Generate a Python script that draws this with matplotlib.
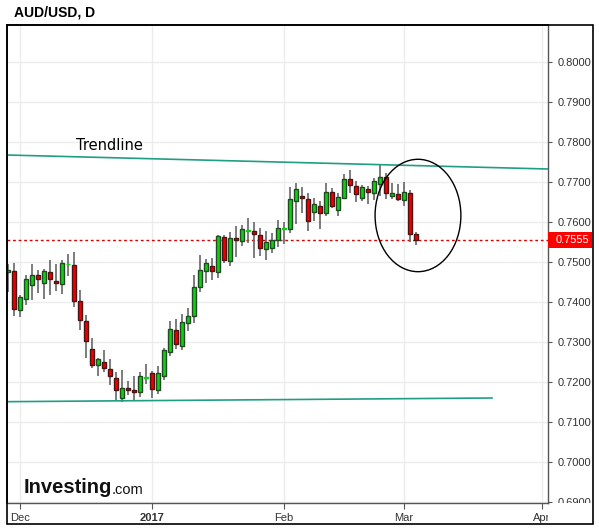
import matplotlib
matplotlib.use("Agg")
import matplotlib.pyplot as plt
import matplotlib.transforms as mtransforms
from matplotlib.patches import Ellipse, Rectangle
import numpy as np
import pandas as pd

plt.rcParams['font.family'] = ['Liberation Sans', 'DejaVu Sans']

# ---------------------------------------------------------------------------------------------------------------------#
# AUD/USD daily candles, 29 Nov 2016 - 3 Mar 2017
# ---------------------------------------------------------------------------------------------------------------------#
dates = pd.bdate_range("2016-11-29", periods=69)

opens = [0.7474, 0.7477,
         0.7379, 0.7407, 0.7442, 0.7467, 0.7447, 0.7474, 0.7452, 0.7444, 0.7494, 0.7492,
         0.7402, 0.7352, 0.7282, 0.7242, 0.7251, 0.7233, 0.7210, 0.7160, 0.7184, 0.7179,
         0.7175, 0.7211, 0.7223, 0.7180, 0.7215, 0.7275, 0.7330, 0.7290, 0.7348, 0.7365,
         0.7437, 0.7478, 0.7489, 0.7474, 0.7562, 0.7502, 0.7559, 0.7552, 0.7578, 0.7577,
         0.7567, 0.7532, 0.7534, 0.7554, 0.7583, 0.7583, 0.7653, 0.7666, 0.7657, 0.7624,
         0.7639, 0.7622, 0.7675, 0.7629, 0.7660, 0.7708, 0.7689, 0.7659, 0.7683, 0.7672,
         0.7696, 0.7713, 0.7665, 0.7670, 0.7654, 0.7672, 0.7571]
closes = [0.7479, 0.7382,
          0.7412, 0.7457, 0.7467, 0.7457, 0.7477, 0.7457, 0.7448, 0.7497, 0.7495, 0.7402,
          0.7354, 0.7302, 0.7242, 0.7258, 0.7235, 0.7214, 0.7181, 0.7185, 0.7181, 0.7174,
          0.7215, 0.7212, 0.7183, 0.7222, 0.7280, 0.7333, 0.7295, 0.7350, 0.7365, 0.7437,
          0.7481, 0.7498, 0.7477, 0.7564, 0.7504, 0.7559, 0.7554, 0.7582, 0.7579, 0.7569,
          0.7534, 0.7549, 0.7554, 0.7584, 0.7584, 0.7658, 0.7683, 0.7659, 0.7602, 0.7645,
          0.7622, 0.7675, 0.7639, 0.7662, 0.7708, 0.7693, 0.7670, 0.7687, 0.7674, 0.7702,
          0.7713, 0.7672, 0.7673, 0.7658, 0.7675, 0.7570, 0.7555]
highs = [0.7494, 0.7498,
         0.7418, 0.7468, 0.7495, 0.7480, 0.7482, 0.7505, 0.7495, 0.7505, 0.7519, 0.7525,
         0.7429, 0.7368, 0.7309, 0.7261, 0.7280, 0.7258, 0.7226, 0.7230, 0.7202, 0.7216,
         0.7225, 0.7245, 0.7228, 0.7240, 0.7286, 0.7353, 0.7358, 0.7371, 0.7384, 0.7468,
         0.7517, 0.7507, 0.7509, 0.7568, 0.7568, 0.7576, 0.7590, 0.7593, 0.7609, 0.7600,
         0.7584, 0.7577, 0.7572, 0.7604, 0.7601, 0.7688, 0.7698, 0.7688, 0.7673, 0.7660,
         0.7652, 0.7698, 0.7685, 0.7672, 0.7721, 0.7731, 0.7702, 0.7693, 0.7689, 0.7710,
         0.7743, 0.7723, 0.7698, 0.7696, 0.7700, 0.7681, 0.7574]
lows = [0.7426, 0.7366,
        0.7363, 0.7393, 0.7406, 0.7423, 0.7408, 0.7418, 0.7428, 0.7419, 0.7466, 0.7388,
        0.7329, 0.7259, 0.7236, 0.7216, 0.7226, 0.7192, 0.7152, 0.7150, 0.7167, 0.7154,
        0.7162, 0.7196, 0.7160, 0.7170, 0.7204, 0.7264, 0.7282, 0.7279, 0.7327, 0.7348,
        0.7425, 0.7447, 0.7456, 0.7461, 0.7498, 0.7491, 0.7513, 0.7541, 0.7548, 0.7511,
        0.7516, 0.7506, 0.7523, 0.7538, 0.7546, 0.7573, 0.7595, 0.7622, 0.7578, 0.7602,
        0.7582, 0.7614, 0.7635, 0.7614, 0.7658, 0.7673, 0.7649, 0.7652, 0.7645, 0.7656,
        0.7664, 0.7658, 0.7658, 0.7652, 0.7639, 0.7551, 0.7543]

# trendlines drawn by hand on the chart (bar index, price)
upper_x, upper_y = [-0.17, 90.0], [0.77675, 0.77325]
lower_x, lower_y = [-0.17, 80.67], [0.71508, 0.71600]
last_price = 0.7555
month_labels = ["Dec", "2017", "Feb", "Mar", "Apr"]
month_pos = [2, 24, 46, 66, 89]
yticks = np.arange(0.69, 0.8001, 0.01)

# ---------------------------------------------------------------------------------------------------------------------#
fig = plt.figure(figsize=(5.99, 5.28), dpi=100)
ax = fig.add_axes([7 / 599, 25 / 528, 541 / 599, 478 / 528])

x = np.arange(len(dates))
o, c, h, l = map(np.array, (opens, closes, highs, lows))
up = c >= o
green, green_edge = "#14cc14", "#1f4a22"
red, red_edge = "#ee0000", "#4a1414"

ax.vlines(x, l, h, color="#666666", linewidth=1.2, zorder=2)
fill = np.where(up, green, red)
edge = np.where(up, green_edge, red_edge)
doji = np.abs(c - o) < 0.0002
edge = np.where(doji, fill, edge)
ax.bar(x, np.maximum(np.abs(c - o), 0.00005), bottom=np.minimum(o, c), width=0.72,
       color=fill, edgecolor=edge, linewidth=1.0, zorder=3)

ax.plot(upper_x, upper_y, color="#1f9e83", linewidth=1.2, zorder=4)
ax.plot(lower_x, lower_y, color="#1f9e83", linewidth=1.2, zorder=4)
ax.text(11.3, 0.7781, "Trendline", fontsize=10.5, color="black", family=["DejaVu Sans"], zorder=5)
ax.add_patch(Ellipse((68.33, 0.76163), 14.3, 0.0281, fill=False, edgecolor="black", linewidth=1.0, zorder=5))
ax.axhline(last_price, color="#dd0000", linewidth=1.0, linestyle=(0, (2, 2)), zorder=1)

ax.set_xlim(-0.167, 90.0)
ax.set_ylim(0.68975, 0.80925)

ax.grid(True, color="#ececec", linewidth=1.0)
ax.set_axisbelow(True)
ax.yaxis.tick_right()
ax.set_yticks(yticks)
ax.set_yticklabels([f"{v:.4f}" for v in yticks])
ax.set_xticks(month_pos)
ax.set_xticklabels(month_labels)
ax.tick_params(axis="y", length=3, color="#555555", labelsize=8, labelcolor="#333333", pad=4)
ax.tick_params(axis="x", length=4, color="#555555", labelsize=8, labelcolor="#333333", pad=3)
ax.get_xticklabels()[1].set_fontweight("bold")
for side in ("left", "top"):
    ax.spines[side].set_color("black")
    ax.spines[side].set_linewidth(1.2)
for side in ("right", "bottom"):
    ax.spines[side].set_color("#555555")
    ax.spines[side].set_linewidth(1.0)

# clip labels that run past the axis ends
below = mtransforms.TransformedBbox(mtransforms.Bbox([[0, -1], [1, 0]]), ax.transAxes)
for lbl in ax.get_xticklabels():
    lbl.set_clip_box(below)
    lbl.set_clip_on(True)
beside = mtransforms.TransformedBbox(mtransforms.Bbox([[1, 0], [2, 1]]), ax.transAxes)
for lbl in ax.get_yticklabels():
    lbl.set_clip_box(beside)
    lbl.set_clip_on(True)

# last price tag
blend = mtransforms.blended_transform_factory(ax.transAxes, ax.transData)
ax.add_patch(Rectangle((1.0, last_price - 0.002), 0.0813, 0.004, transform=blend,
                       facecolor="#ff0000", edgecolor="none", clip_on=False, zorder=6))
ax.text(1.0145, last_price, f"{last_price:.4f}", transform=blend, color="white",
        fontsize=8, va="center", ha="left", clip_on=False, zorder=7)

# title, frame and logo
fig.text(14 / 599, 1 - 12.5 / 528, "AUD/USD, D", fontsize=10, fontweight="bold", va="center", ha="left")
fig.patches.append(Rectangle((7 / 599, 4 / 528), 586 / 599, 499 / 528, transform=fig.transFigure,
                             fill=False, edgecolor="black", linewidth=1.2))
ax.text(0.03, 0.012, "Investing", transform=ax.transAxes, fontsize=14.5, fontweight="bold",
        color="#111111", va="bottom", ha="left", zorder=6)
ax.text(0.193, 0.012, ".com", transform=ax.transAxes, fontsize=10.5, color="#111111",
        va="bottom", ha="left", zorder=6)

fig.savefig("out.png", dpi=100)
